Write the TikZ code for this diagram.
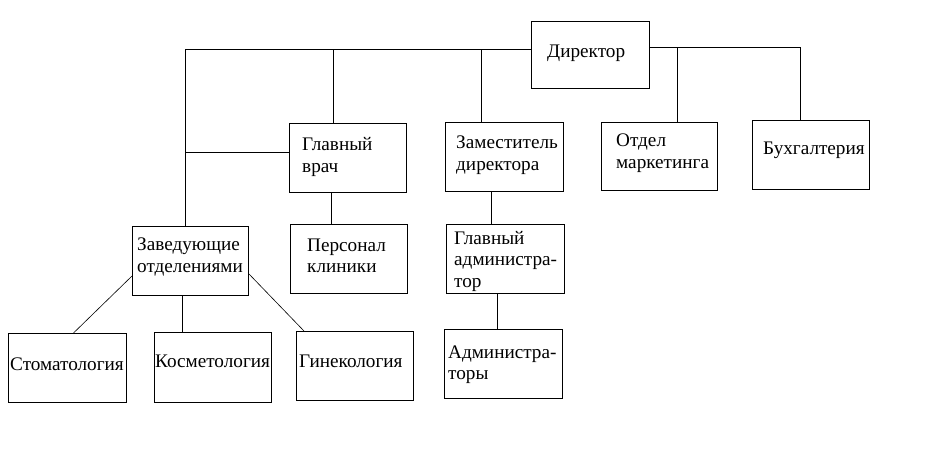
\documentclass[tikz,border=0pt]{standalone}
\usepackage{fontspec}
\setmainfont{Liberation Serif}
\newfontfamily\boxfont{Liberation Serif}
\begin{document}
\begin{tikzpicture}[x=1pt,y=-1pt,
  box/.style={draw,line width=1pt,anchor=north west,inner sep=0pt},
  txt/.style={anchor=west,align=left,inner sep=0pt,font=\boxfont\fontsize{19.2}{21.5}\selectfont},
  ln/.style={line width=1pt},
  thinln/.style={line width=0.6pt}]
\useasboundingbox (0,0) rectangle (942,455);
% boxes
\node[box,minimum width=118pt,minimum height=67pt] (dir)  at (531,21) {};
\node[box,minimum width=117pt,minimum height=69pt] (gv)   at (289,123) {};
\node[box,minimum width=118pt,minimum height=69pt] (zam)  at (445,122) {};
\node[box,minimum width=116pt,minimum height=68pt] (otd)  at (601,122) {};
\node[box,minimum width=117pt,minimum height=69pt] (buh)  at (752,120) {};
\node[box,minimum width=116pt,minimum height=69pt] (zav)  at (132,226) {};
\node[box,minimum width=117pt,minimum height=69pt] (pers) at (290,224) {};
\node[box,minimum width=118pt,minimum height=69pt] (gadm) at (446,224) {};
\node[box,minimum width=118pt,minimum height=69pt] (adm)  at (444,329) {};
\node[box,minimum width=118pt,minimum height=69pt] (stom) at (8,333) {};
\node[box,minimum width=117pt,minimum height=70pt] (kosm) at (154,332) {};
\node[box,minimum width=117pt,minimum height=69pt] (gin)  at (296,331) {};
% texts
\node[txt] (tdir)  at (547,53) {Директор};
\node[txt] (tgv)   at (302,157) {Главный\\врач};
\node[txt] (tzam)  at (456,155) {Заместитель\\директора};
\node[txt] (totd)  at (616,153) {Отдел\\маркетинга};
\node[txt] (tbuh)  at (763,150) {Бухгалтерия};
\node[txt] (tzav)  at (137,257) {Заведующие\\отделениями};
\node[txt] (tpers) at (307,256) {Персонал\\клиники};
\node[txt] (tgadm) at (454,261) {Главный\\администра-\\тор};
\node[txt] (tadm)  at (448,364.5) {Администра-\\торы};
\node[txt] (tstom) at (10,364) {Стоматология};
\node[txt] (tkosm) at (155,361) {Косметология};
\node[txt] (tgin)  at (299,361) {Гинекология};
% connectors
\coordinate (jl) at (185,49);
\coordinate (jr) at (800,47);
\coordinate (c1) at (333,49);
\coordinate (c2) at (481,49);
\coordinate (c3) at (677,47);
\coordinate (c4) at (185,152);
\coordinate (c5) at (331,0);
\coordinate (c6) at (491,0);
\coordinate (c7) at (497,0);
\coordinate (c8) at (182,0);
\draw[ln] (dir.west |- jl) -- (jl) -- (jl |- zav.north);
\draw[ln] (dir.east |- jr) -- (jr) -- (jr |- buh.north);
\draw[ln] (c1) -- (c1 |- gv.north);
\draw[ln] (c2) -- (c2 |- zam.north);
\draw[ln] (c3) -- (c3 |- otd.north);
\draw[ln] (c4) -- (c4 -| gv.west);
\draw[ln] (c5 |- gv.south) -- (c5 |- pers.north);
\draw[ln] (c6 |- zam.south) -- (c6 |- gadm.north);
\draw[ln] (c7 |- gadm.south) -- (c7 |- adm.north);
\draw[ln] (c8 |- zav.south) -- (c8 |- kosm.north);
\draw[thinln] ([yshift=-15pt]zav.west) -- ([xshift=6pt]stom.north);
\draw[thinln] ([yshift=-13pt]zav.east) -- ([xshift=8pt]gin.north west);
\end{tikzpicture}
\end{document}
